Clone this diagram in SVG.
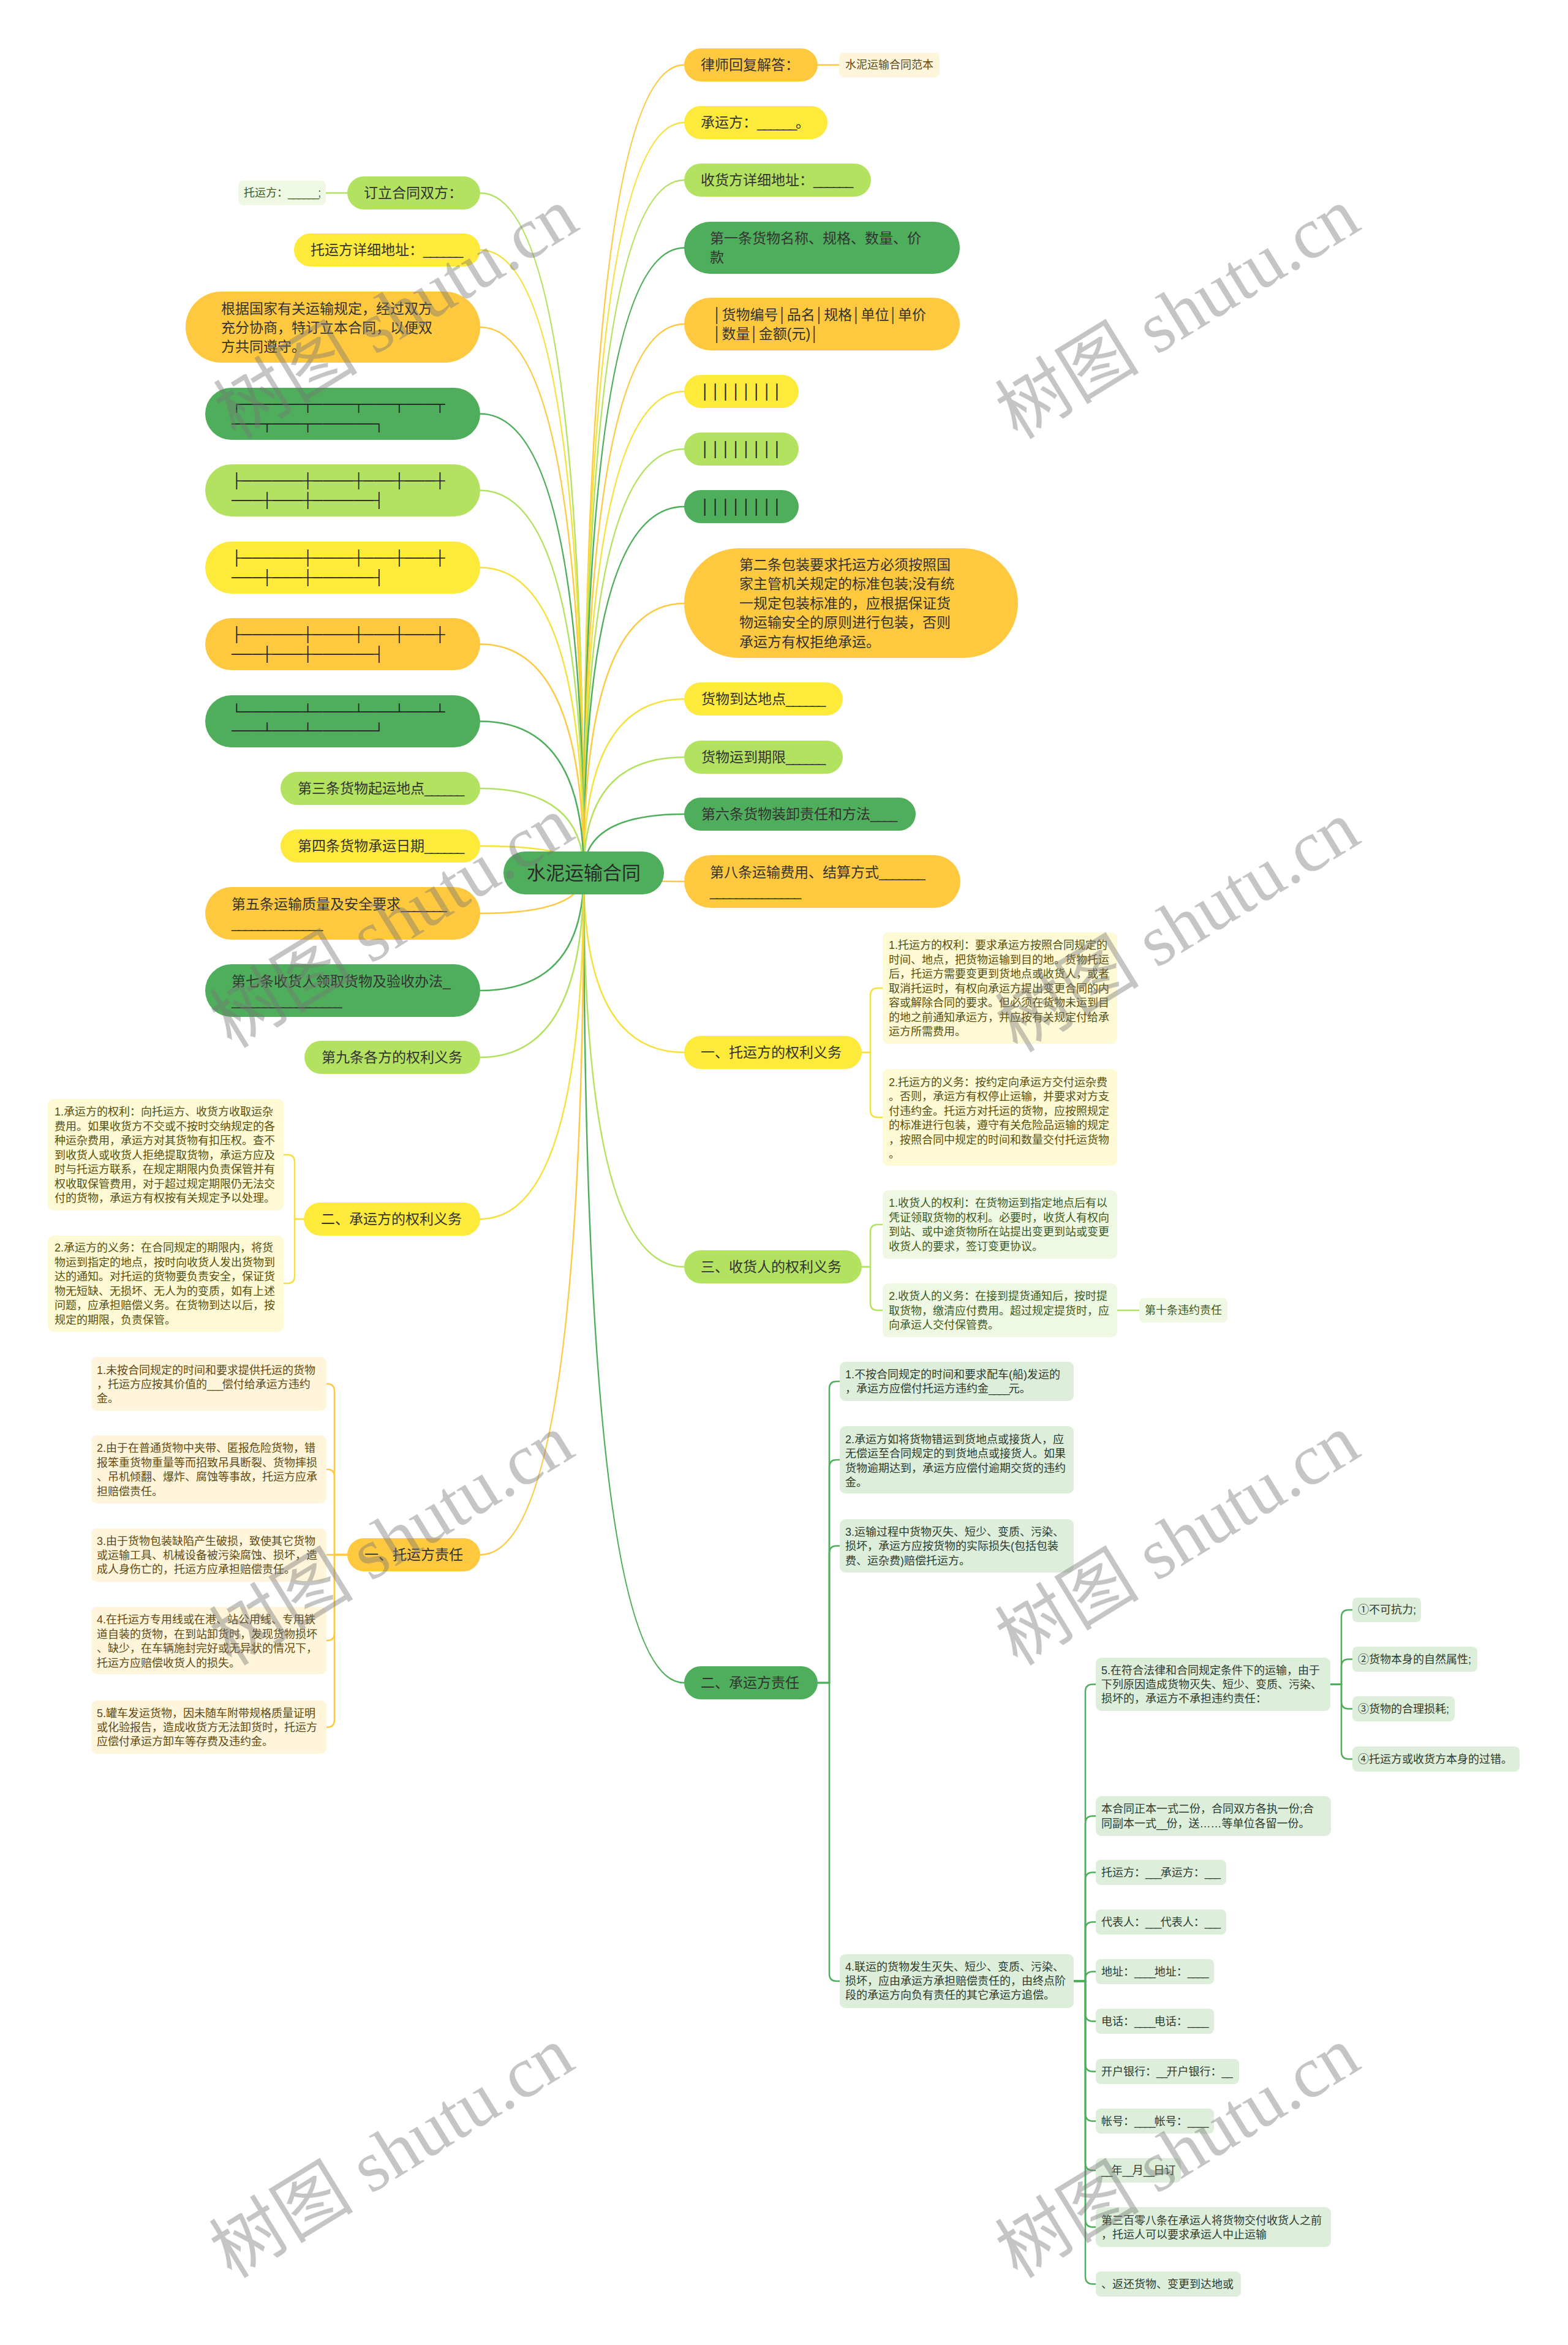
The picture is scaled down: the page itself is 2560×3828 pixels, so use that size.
<svg xmlns="http://www.w3.org/2000/svg" width="2560" height="3828" viewBox="0 0 2560 3828">
<style>
text{font-family:"Liberation Sans","Noto Sans CJK SC",sans-serif;}
.t{font-size:23px;fill:#333;dominant-baseline:central;}
.l{font-size:18px;dominant-baseline:central;}
.root{font-size:31px;fill:#2a2a2a;dominant-baseline:central;text-anchor:middle;}
.u{letter-spacing:-0.1em;}
.O{fill:#FFC93F}.Y{fill:#FEEA3A}.LG{fill:#B2E260}.G{fill:#4FAE5B}
.lO{fill:#FFF5DA}.lY{fill:#FFFAD6}.lLG{fill:#EFF8E2}.lG{fill:#DDEFDA}
.tO{fill:#5E4A14}.tY{fill:#55500F}.tLG{fill:#3E5A1E}.tG{fill:#2E3A2E}
.bx{font-family:"Liberation Sans","DejaVu Sans",sans-serif;font-size:23px;fill:#222;}
#connectors path{fill:none;stroke-width:2.5;stroke-linecap:round;}
.sO{stroke:#FFC93F}.sY{stroke:#F6E13A}.sLG{stroke:#B2E260}.sG{stroke:#4FAE5B}
.wm{font-family:"Liberation Serif","Noto Sans CJK SC",serif;font-size:118px;fill:#777;opacity:.42;text-anchor:middle;dominant-baseline:central;}
</style>
<rect width="2560" height="3828" fill="#fff"/>

<g id="connectors">
<path class="sO" d="M953 1425 Q953 106 1117 106"/>
<path class="sY" d="M953 1425 Q953 200 1117 200"/>
<path class="sLG" d="M953 1425 Q953 294 1117 294"/>
<path class="sG" d="M953 1425 Q953 404.5 1117 404.5"/>
<path class="sO" d="M953 1425 Q953 529 1117 529"/>
<path class="sY" d="M953 1425 Q953 639 1117 639"/>
<path class="sLG" d="M953 1425 Q953 733 1117 733"/>
<path class="sG" d="M953 1425 Q953 827 1117 827"/>
<path class="sO" d="M953 1425 Q953 985 1117 985"/>
<path class="sY" d="M953 1425 Q953 1141 1117 1141"/>
<path class="sLG" d="M953 1425 Q953 1236 1117 1236"/>
<path class="sG" d="M953 1425 Q953 1329 1117 1329"/>
<path class="sO" d="M953 1425 Q953 1439 1117 1439"/>
<path class="sY" d="M953 1425 Q953 1718 1117 1718"/>
<path class="sLG" d="M953 1425 Q953 2068 1117 2068"/>
<path class="sG" d="M953 1425 Q953 2747 1117 2747"/>
<path class="sLG" d="M953 1425 Q953 315 784 315"/>
<path class="sY" d="M953 1425 Q953 408 784 408"/>
<path class="sO" d="M953 1425 Q953 534 784 534"/>
<path class="sG" d="M953 1425 Q953 675.5 784 675.5"/>
<path class="sLG" d="M953 1425 Q953 800.5 784 800.5"/>
<path class="sY" d="M953 1425 Q953 926.5 784 926.5"/>
<path class="sO" d="M953 1425 Q953 1051.5 784 1051.5"/>
<path class="sG" d="M953 1425 Q953 1177.5 784 1177.5"/>
<path class="sLG" d="M953 1425 Q953 1287 784 1287"/>
<path class="sY" d="M953 1425 Q953 1381 784 1381"/>
<path class="sO" d="M953 1425 Q953 1491 784 1491"/>
<path class="sG" d="M953 1425 Q953 1617 784 1617"/>
<path class="sLG" d="M953 1425 Q953 1726 784 1726"/>
<path class="sY" d="M953 1425 Q953 1990 784 1990"/>
<path class="sO" d="M953 1425 Q953 2538 784 2538"/>
<!-- leaf links -->
<path class="sO" d="M1335 106 H1370"/>
<path class="sLG" d="M567 315 H532"/>
<path class="sY" d="M1407 1718 H1421 V1625 Q1421 1613 1433 1613 H1441"/>
<path class="sY" d="M1407 1718 H1421 V1812 Q1421 1824 1433 1824 H1441"/>
<path class="sLG" d="M1407 2068 H1421 V2011 Q1421 1999 1433 1999 H1441"/>
<path class="sLG" d="M1407 2068 H1421 V2127 Q1421 2139 1433 2139 H1441"/>
<path class="sLG" d="M1824 2139 H1860"/>
<path class="sY" d="M496 1990 H481 V1897 Q481 1885 469 1885 H463"/>
<path class="sY" d="M496 1990 H481 V2083 Q481 2095 469 2095 H463"/>
<path class="sO" d="M567 2538 H546 V2271 Q546 2259 534 2259 H533"/>
<path class="sO" d="M567 2538 H546 V2410.5 Q546 2398.5 534 2398.5 H533"/>
<path class="sO" d="M567 2538 H533"/>
<path class="sO" d="M567 2538 H546 V2666 Q546 2678 534 2678 H533"/>
<path class="sO" d="M567 2538 H546 V2807.5 Q546 2819.5 534 2819.5 H533"/>
<path class="sG" d="M1335 2747 H1354 V2267 Q1354 2255 1366 2255 H1371"/>
<path class="sG" d="M1335 2747 H1354 V2395 Q1354 2383 1366 2383 H1371"/>
<path class="sG" d="M1335 2747 H1354 V2535.5 Q1354 2523.5 1366 2523.5 H1371"/>
<path class="sG" d="M1335 2747 H1354 V3222 Q1354 3234 1366 3234 H1371"/>
<path class="sG" d="M1753 3234 H1772 V2761.5 Q1772 2749.5 1784 2749.5 H1789"/>
<path class="sG" d="M1753 3234 H1772 V2976.5 Q1772 2964.5 1784 2964.5 H1789"/>
<path class="sG" d="M1753 3234 H1772 V3068.5 Q1772 3056.5 1784 3056.5 H1789"/>
<path class="sG" d="M1753 3234 H1772 V3149.5 Q1772 3137.5 1784 3137.5 H1789"/>
<path class="sG" d="M1753 3234 H1772 V3230.5 Q1772 3218.5 1784 3218.5 H1789"/>
<path class="sG" d="M1753 3234 H1772 V3287.5 Q1772 3299.5 1784 3299.5 H1789"/>
<path class="sG" d="M1753 3234 H1772 V3369.5 Q1772 3381.5 1784 3381.5 H1789"/>
<path class="sG" d="M1753 3234 H1772 V3450.5 Q1772 3462.5 1784 3462.5 H1789"/>
<path class="sG" d="M1753 3234 H1772 V3531 Q1772 3543 1784 3543 H1789"/>
<path class="sG" d="M1753 3234 H1772 V3623.5 Q1772 3635.5 1784 3635.5 H1789"/>
<path class="sG" d="M1753 3234 H1772 V3716.5 Q1772 3728.5 1784 3728.5 H1789"/>
<path class="sG" d="M2172 2749.5 H2190 V2640 Q2190 2628 2202 2628 H2208"/>
<path class="sG" d="M2172 2749.5 H2190 V2720.5 Q2190 2708.5 2202 2708.5 H2208"/>
<path class="sG" d="M2172 2749.5 H2190 V2777.5 Q2190 2789.5 2202 2789.5 H2208"/>
<path class="sG" d="M2172 2749.5 H2190 V2859.5 Q2190 2871.5 2202 2871.5 H2208"/>
</g>

<g id="root"><rect class="G" x="822" y="1390" width="262" height="70" rx="35"/><text class="root" x="953" y="1425">水泥运输合同</text></g>

<!-- right side -->
<g id="r1"><rect class="O" x="1117" y="79" width="218" height="54" rx="27"/><text class="t" x="1144" y="106">律师回复解答：</text></g>
<g id="r1a"><rect class="lO" x="1370" y="86" width="164" height="40" rx="8"/><text class="l tO" x="1380" y="106">水泥运输合同范本</text></g>
<g id="r2"><rect class="Y" x="1117" y="173" width="234" height="54" rx="27"/><text class="t" x="1144" y="200">承运方：<tspan class="u">______</tspan>。</text></g>
<g id="r3"><rect class="LG" x="1117" y="267" width="305" height="54" rx="27"/><text class="t" x="1144" y="294">收货方详细地址：<tspan class="u">______</tspan></text></g>
<g id="r4"><rect class="G" x="1117" y="362" width="450" height="85" rx="42.5"/><text class="t" x="1159" y="389">第一条货物名称、规格、数量、价</text><text class="t" x="1159" y="420">款</text></g>
<g id="r5"><rect class="O" x="1117" y="486" width="450" height="86" rx="43"/><text class="t" x="1164" y="514">│货物编号│品名│规格│单位│单价</text><text class="t" x="1164" y="545">│数量│金额(元)│</text></g>
<g id="r6"><rect class="Y" x="1117" y="612" width="187" height="54" rx="27"/><text class="bx" x="1143.6" y="647" textLength="134.4" lengthAdjust="spacingAndGlyphs">││││││││</text></g>
<g id="r7"><rect class="LG" x="1117" y="706" width="187" height="54" rx="27"/><text class="bx" x="1143.6" y="741" textLength="134.4" lengthAdjust="spacingAndGlyphs">││││││││</text></g>
<g id="r8"><rect class="G" x="1117" y="800" width="187" height="54" rx="27"/><text class="bx" x="1143.6" y="835" textLength="134.4" lengthAdjust="spacingAndGlyphs">││││││││</text></g>
<g id="r9"><rect class="O" x="1117" y="895" width="545" height="179" rx="89.5"/>
<text class="t" x="1207" y="921.5">第二条包装要求托运方必须按照国</text>
<text class="t" x="1207" y="953">家主管机关规定的标准包装;没有统</text>
<text class="t" x="1207" y="984.5">一规定包装标准的，应根据保证货</text>
<text class="t" x="1207" y="1016">物运输安全的原则进行包装，否则</text>
<text class="t" x="1207" y="1047.5">承运方有权拒绝承运。</text></g>
<g id="r10"><rect class="Y" x="1117" y="1114" width="259" height="54" rx="27"/><text class="t" x="1145" y="1141">货物到达地点<tspan class="u">______</tspan></text></g>
<g id="r11"><rect class="LG" x="1117" y="1209" width="259" height="54" rx="27"/><text class="t" x="1145" y="1236">货物运到期限<tspan class="u">______</tspan></text></g>
<g id="r12"><rect class="G" x="1117" y="1302" width="378" height="54" rx="27"/><text class="t" x="1145" y="1329">第六条货物装卸责任和方法<tspan class="u">____</tspan></text></g>
<g id="r13"><rect class="O" x="1117" y="1396" width="451" height="86" rx="43"/><text class="t" x="1159" y="1424">第八条运输费用、结算方式<tspan class="u">_______</tspan></text><text class="t u" x="1159" y="1455">______________</text></g>
<g id="r14"><rect class="Y" x="1117" y="1691" width="290" height="54" rx="27"/><text class="t" x="1144" y="1718">一、托运方的权利义务</text></g>
<g id="r14a"><rect class="lY" x="1441" y="1522" width="383" height="182" rx="9"/>
<text class="l tY" x="1451" y="1543">1.托运方的权利：要求承运方按照合同规定的</text>
<text class="l tY" x="1451" y="1566.5">时间、地点，把货物运输到目的地。货物托运</text>
<text class="l tY" x="1451" y="1590">后，托运方需要变更到货地点或收货人，或者</text>
<text class="l tY" x="1451" y="1613.5">取消托运时，有权向承运方提出变更合同的内</text>
<text class="l tY" x="1451" y="1637">容或解除合同的要求。但必须在货物未运到目</text>
<text class="l tY" x="1451" y="1660.5">的地之前通知承运方，并应按有关规定付给承</text>
<text class="l tY" x="1451" y="1684">运方所需费用。</text></g>
<g id="r14b"><rect class="lY" x="1441" y="1745" width="383" height="158" rx="9"/>
<text class="l tY" x="1451" y="1766.5">2.托运方的义务：按约定向承运方交付运杂费</text>
<text class="l tY" x="1451" y="1790">。否则，承运方有权停止运输，并要求对方支</text>
<text class="l tY" x="1451" y="1813.5">付违约金。托运方对托运的货物，应按照规定</text>
<text class="l tY" x="1451" y="1837">的标准进行包装，遵守有关危险品运输的规定</text>
<text class="l tY" x="1451" y="1860.5">，按照合同中规定的时间和数量交付托运货物</text>
<text class="l tY" x="1451" y="1884">。</text></g>
<g id="r15"><rect class="LG" x="1117" y="2041" width="290" height="54" rx="27"/><text class="t" x="1144" y="2068">三、收货人的权利义务</text></g>
<g id="r15a"><rect class="lLG" x="1441" y="1943" width="383" height="112" rx="9"/>
<text class="l tLG" x="1451" y="1964">1.收货人的权利：在货物运到指定地点后有以</text>
<text class="l tLG" x="1451" y="1987.5">凭证领取货物的权利。必要时，收货人有权向</text>
<text class="l tLG" x="1451" y="2011">到站、或中途货物所在站提出变更到站或变更</text>
<text class="l tLG" x="1451" y="2034.5">收货人的要求，签订变更协议。</text></g>
<g id="r15b"><rect class="lLG" x="1441" y="2095" width="383" height="88" rx="9"/>
<text class="l tLG" x="1451" y="2116">2.收货人的义务：在接到提货通知后，按时提</text>
<text class="l tLG" x="1451" y="2139.5">取货物，缴清应付费用。超过规定提货时，应</text>
<text class="l tLG" x="1451" y="2163">向承运人交付保管费。</text></g>
<g id="r15c"><rect class="lLG" x="1860" y="2119" width="144" height="40" rx="8"/><text class="l tLG" x="1869" y="2139">第十条违约责任</text></g>
<g id="r16"><rect class="G" x="1117" y="2720" width="218" height="54" rx="27"/><text class="t" x="1144" y="2747">二、承运方责任</text></g>
<g id="r16a"><rect class="lG" x="1371" y="2223" width="382" height="64" rx="9"/>
<text class="l tG" x="1380" y="2243.5">1.不按合同规定的时间和要求配车(船)发运的</text>
<text class="l tG" x="1380" y="2267">，承运方应偿付托运方违约金<tspan class="u">____</tspan>元。</text></g>
<g id="r16b"><rect class="lG" x="1371" y="2328" width="382" height="110" rx="9"/>
<text class="l tG" x="1380" y="2349.5">2.承运方如将货物错运到货地点或接货人，应</text>
<text class="l tG" x="1380" y="2373">无偿运至合同规定的到货地点或接货人。如果</text>
<text class="l tG" x="1380" y="2396.5">货物逾期达到，承运方应偿付逾期交货的违约</text>
<text class="l tG" x="1380" y="2420">金。</text></g>
<g id="r16c"><rect class="lG" x="1371" y="2480" width="382" height="87" rx="9"/>
<text class="l tG" x="1380" y="2501">3.运输过程中货物灭失、短少、变质、污染、</text>
<text class="l tG" x="1380" y="2524">损坏，承运方应按货物的实际损失(包括包装</text>
<text class="l tG" x="1380" y="2547.5">费、运杂费)赔偿托运方。</text></g>
<g id="r16d"><rect class="lG" x="1371" y="3190" width="382" height="88" rx="9"/>
<text class="l tG" x="1380" y="3211">4.联运的货物发生灭失、短少、变质、污染、</text>
<text class="l tG" x="1380" y="3234">损坏，应由承运方承担赔偿责任的，由终点阶</text>
<text class="l tG" x="1380" y="3257">段的承运方向负有责任的其它承运方追偿。</text></g>
<g id="r16d1"><rect class="lG" x="1789" y="2706" width="383" height="87" rx="9"/>
<text class="l tG" x="1798" y="2727">5.在符合法律和合同规定条件下的运输，由于</text>
<text class="l tG" x="1798" y="2750">下列原因造成货物灭失、短少、变质、污染、</text>
<text class="l tG" x="1798" y="2773">损坏的，承运方不承担违约责任：</text></g>
<g id="r16d1a"><rect class="lG" x="2208" y="2608" width="112" height="40" rx="8"/><text class="l tG" x="2217" y="2628">①不可抗力;</text></g>
<g id="r16d1b"><rect class="lG" x="2208" y="2688" width="204" height="41" rx="8"/><text class="l tG" x="2217" y="2708.5">②货物本身的自然属性;</text></g>
<g id="r16d1c"><rect class="lG" x="2208" y="2769" width="167" height="41" rx="8"/><text class="l tG" x="2217" y="2789.5">③货物的合理损耗;</text></g>
<g id="r16d1d"><rect class="lG" x="2208" y="2851" width="273" height="41" rx="8"/><text class="l tG" x="2217" y="2871.5">④托运方或收货方本身的过错。</text></g>
<g id="r16d2"><rect class="lG" x="1789" y="2932" width="384" height="65" rx="9"/>
<text class="l tG" x="1798" y="2953">本合同正本一式二份，合同双方各执一份;合</text>
<text class="l tG" x="1798" y="2977">同副本一式<tspan class="u">__</tspan>份，送……等单位各留一份。</text></g>
<g id="r16d3"><rect class="lG" x="1789" y="3036" width="213" height="41" rx="8"/><text class="l tG" x="1798" y="3056.5">托运方：<tspan class="u">___</tspan>承运方：<tspan class="u">___</tspan></text></g>
<g id="r16d4"><rect class="lG" x="1789" y="3117" width="213" height="41" rx="8"/><text class="l tG" x="1798" y="3137.5">代表人：<tspan class="u">___</tspan>代表人：<tspan class="u">___</tspan></text></g>
<g id="r16d5"><rect class="lG" x="1789" y="3198" width="193" height="41" rx="8"/><text class="l tG" x="1798" y="3218.5">地址：<tspan class="u">____</tspan>地址：<tspan class="u">____</tspan></text></g>
<g id="r16d6"><rect class="lG" x="1789" y="3279" width="193" height="41" rx="8"/><text class="l tG" x="1798" y="3299.5">电话：<tspan class="u">____</tspan>电话：<tspan class="u">____</tspan></text></g>
<g id="r16d7"><rect class="lG" x="1789" y="3361" width="234" height="41" rx="8"/><text class="l tG" x="1798" y="3381.5">开户银行：<tspan class="u">__</tspan>开户银行：<tspan class="u">__</tspan></text></g>
<g id="r16d8"><rect class="lG" x="1789" y="3442" width="193" height="41" rx="8"/><text class="l tG" x="1798" y="3462.5">帐号：<tspan class="u">____</tspan>帐号：<tspan class="u">____</tspan></text></g>
<g id="r16d9"><rect class="lG" x="1789" y="3523" width="139" height="40" rx="8"/><text class="l tG" x="1798" y="3543"><tspan class="u">__</tspan>年<tspan class="u">__</tspan>月<tspan class="u">__</tspan>日订</text></g>
<g id="r16d10"><rect class="lG" x="1789" y="3603" width="384" height="65" rx="9"/>
<text class="l tG" x="1798" y="3624.5">第三百零八条在承运人将货物交付收货人之前</text>
<text class="l tG" x="1798" y="3648">，托运人可以要求承运人中止运输</text></g>
<g id="r16d11"><rect class="lG" x="1789" y="3708" width="237" height="41" rx="8"/><text class="l tG" x="1798" y="3728.5">、返还货物、变更到达地或</text></g>

<!-- left side -->
<g id="l1"><rect class="LG" x="567" y="288" width="217" height="54" rx="27"/><text class="t" x="594" y="315">订立合同双方：</text></g>
<g id="l1a"><rect class="lLG" x="389" y="295" width="143" height="40" rx="8"/><text class="l tLG" x="398" y="315">托运方：<tspan class="u">______</tspan>;</text></g>
<g id="l2"><rect class="Y" x="480" y="381" width="304" height="54" rx="27"/><text class="t" x="507" y="408">托运方详细地址：<tspan class="u">______</tspan></text></g>
<g id="l3"><rect class="O" x="303" y="476" width="481" height="116" rx="58"/>
<text class="t" x="361" y="504">根据国家有关运输规定，经过双方</text>
<text class="t" x="361" y="535">充分协商，特订立本合同，以便双</text>
<text class="t" x="361" y="566">方共同遵守。</text></g>
<g id="l4"><rect class="G" x="335" y="633" width="449" height="85" rx="42.5"/>
<text class="bx" x="378" y="666.5" textLength="348.6" lengthAdjust="spacingAndGlyphs">┌──────┬────┬───┬───┬</text>
<text class="bx" x="378" y="698.5" textLength="249" lengthAdjust="spacingAndGlyphs">───┬───┬──────┐</text></g>
<g id="l5"><rect class="LG" x="335" y="758" width="449" height="85" rx="42.5"/>
<text class="bx" x="378" y="791.5" textLength="348.6" lengthAdjust="spacingAndGlyphs">├──────┼────┼───┼───┼</text>
<text class="bx" x="378" y="824" textLength="249" lengthAdjust="spacingAndGlyphs">───┼───┼──────┤</text></g>
<g id="l6"><rect class="Y" x="335" y="884" width="449" height="85" rx="42.5"/>
<text class="bx" x="378" y="917.5" textLength="348.6" lengthAdjust="spacingAndGlyphs">├──────┼────┼───┼───┼</text>
<text class="bx" x="378" y="950" textLength="249" lengthAdjust="spacingAndGlyphs">───┼───┼──────┤</text></g>
<g id="l7"><rect class="O" x="335" y="1009" width="449" height="85" rx="42.5"/>
<text class="bx" x="378" y="1043" textLength="348.6" lengthAdjust="spacingAndGlyphs">├──────┼────┼───┼───┼</text>
<text class="bx" x="378" y="1075" textLength="249" lengthAdjust="spacingAndGlyphs">───┼───┼──────┤</text></g>
<g id="l8"><rect class="G" x="335" y="1135" width="449" height="85" rx="42.5"/>
<text class="bx" x="378" y="1168.5" textLength="348.6" lengthAdjust="spacingAndGlyphs">└──────┴────┴───┴───┴</text>
<text class="bx" x="378" y="1200" textLength="249" lengthAdjust="spacingAndGlyphs">───┴───┴──────┘</text></g>
<g id="l9"><rect class="LG" x="458" y="1260" width="326" height="54" rx="27"/><text class="t" x="486" y="1287">第三条货物起运地点<tspan class="u">______</tspan></text></g>
<g id="l10"><rect class="Y" x="458" y="1354" width="326" height="54" rx="27"/><text class="t" x="486" y="1381">第四条货物承运日期<tspan class="u">______</tspan></text></g>
<g id="l11"><rect class="O" x="335" y="1448" width="449" height="86" rx="43"/><text class="t" x="378" y="1475.5">第五条运输质量及安全要求<tspan class="u">_______</tspan></text><text class="t u" x="378" y="1506.5">______________</text></g>
<g id="l12"><rect class="G" x="335" y="1574" width="449" height="86" rx="43"/><text class="t" x="378" y="1601.5">第七条收货人领取货物及验收办法_</text><text class="t u" x="378" y="1632.5">_________________</text></g>
<g id="l13"><rect class="LG" x="497" y="1699" width="287" height="54" rx="27"/><text class="t" x="525" y="1726">第九条各方的权利义务</text></g>
<g id="l14"><rect class="Y" x="496" y="1963" width="288" height="54" rx="27"/><text class="t" x="524" y="1990">二、承运方的权利义务</text></g>
<g id="l14a"><rect class="lY" x="78" y="1794" width="385" height="182" rx="9"/>
<text class="l tY" x="89" y="1815">1.承运方的权利：向托运方、收货方收取运杂</text>
<text class="l tY" x="89" y="1838.5">费用。如果收货方不交或不按时交纳规定的各</text>
<text class="l tY" x="89" y="1862">种运杂费用，承运方对其货物有扣压权。查不</text>
<text class="l tY" x="89" y="1885.5">到收货人或收货人拒绝提取货物，承运方应及</text>
<text class="l tY" x="89" y="1909">时与托运方联系，在规定期限内负责保管并有</text>
<text class="l tY" x="89" y="1932.5">权收取保管费用，对于超过规定期限仍无法交</text>
<text class="l tY" x="89" y="1956">付的货物，承运方有权按有关规定予以处理。</text></g>
<g id="l14b"><rect class="lY" x="78" y="2017" width="385" height="157" rx="9"/>
<text class="l tY" x="89" y="2037">2.承运方的义务：在合同规定的期限内，将货</text>
<text class="l tY" x="89" y="2060.5">物运到指定的地点，按时向收货人发出货物到</text>
<text class="l tY" x="89" y="2084">达的通知。对托运的货物要负责安全，保证货</text>
<text class="l tY" x="89" y="2107.5">物无短缺、无损坏、无人为的变质，如有上述</text>
<text class="l tY" x="89" y="2131">问题，应承担赔偿义务。在货物到达以后，按</text>
<text class="l tY" x="89" y="2154.5">规定的期限，负责保管。</text></g>
<g id="l15"><rect class="O" x="567" y="2511" width="217" height="54" rx="27"/><text class="t" x="595" y="2538">一、托运方责任</text></g>
<g id="l15a"><rect class="lO" x="149" y="2215" width="384" height="88" rx="9"/>
<text class="l tO" x="158" y="2237">1.未按合同规定的时间和要求提供托运的货物</text>
<text class="l tO" x="158" y="2260">，托运方应按其价值的<tspan class="u">___</tspan>偿付给承运方违约</text>
<text class="l tO" x="158" y="2283">金。</text></g>
<g id="l15b"><rect class="lO" x="149" y="2343" width="384" height="111" rx="9"/>
<text class="l tO" x="158" y="2364">2.由于在普通货物中夹带、匿报危险货物，错</text>
<text class="l tO" x="158" y="2387.5">报笨重货物重量等而招致吊具断裂、货物摔损</text>
<text class="l tO" x="158" y="2411">、吊机倾翻、爆炸、腐蚀等事故，托运方应承</text>
<text class="l tO" x="158" y="2434.5">担赔偿责任。</text></g>
<g id="l15c"><rect class="lO" x="149" y="2495" width="384" height="87" rx="9"/>
<text class="l tO" x="158" y="2516">3.由于货物包装缺陷产生破损，致使其它货物</text>
<text class="l tO" x="158" y="2539">或运输工具、机械设备被污染腐蚀、损坏，造</text>
<text class="l tO" x="158" y="2562">成人身伤亡的，托运方应承担赔偿责任。</text></g>
<g id="l15d"><rect class="lO" x="149" y="2623" width="384" height="110" rx="9"/>
<text class="l tO" x="158" y="2644">4.在托运方专用线或在港、站公用线、专用铁</text>
<text class="l tO" x="158" y="2667.5">道自装的货物，在到站卸货时，发现货物损坏</text>
<text class="l tO" x="158" y="2691">、缺少，在车辆施封完好或无异状的情况下，</text>
<text class="l tO" x="158" y="2714.5">托运方应赔偿收货人的损失。</text></g>
<g id="l15e"><rect class="lO" x="149" y="2776" width="384" height="87" rx="9"/>
<text class="l tO" x="158" y="2797">5.罐车发运货物，因未随车附带规格质量证明</text>
<text class="l tO" x="158" y="2820">或化验报告，造成收货方无法卸货时，托运方</text>
<text class="l tO" x="158" y="2843">应偿付承运方卸车等存费及违约金。</text></g>

<g id="watermarks">
<text class="wm" transform="translate(647 512) rotate(-31.5)">树图 shutu.cn</text>
<text class="wm" transform="translate(1923 512) rotate(-31.5)">树图 shutu.cn</text>
<text class="wm" transform="translate(640 1506) rotate(-31.5)">树图 shutu.cn</text>
<text class="wm" transform="translate(1923 1513) rotate(-31.5)">树图 shutu.cn</text>
<text class="wm" transform="translate(640 2514) rotate(-31.5)">树图 shutu.cn</text>
<text class="wm" transform="translate(1923 2514) rotate(-31.5)">树图 shutu.cn</text>
<text class="wm" transform="translate(640 3514) rotate(-31.5)">树图 shutu.cn</text>
<text class="wm" transform="translate(1923 3514) rotate(-31.5)">树图 shutu.cn</text>
</g>
</svg>
